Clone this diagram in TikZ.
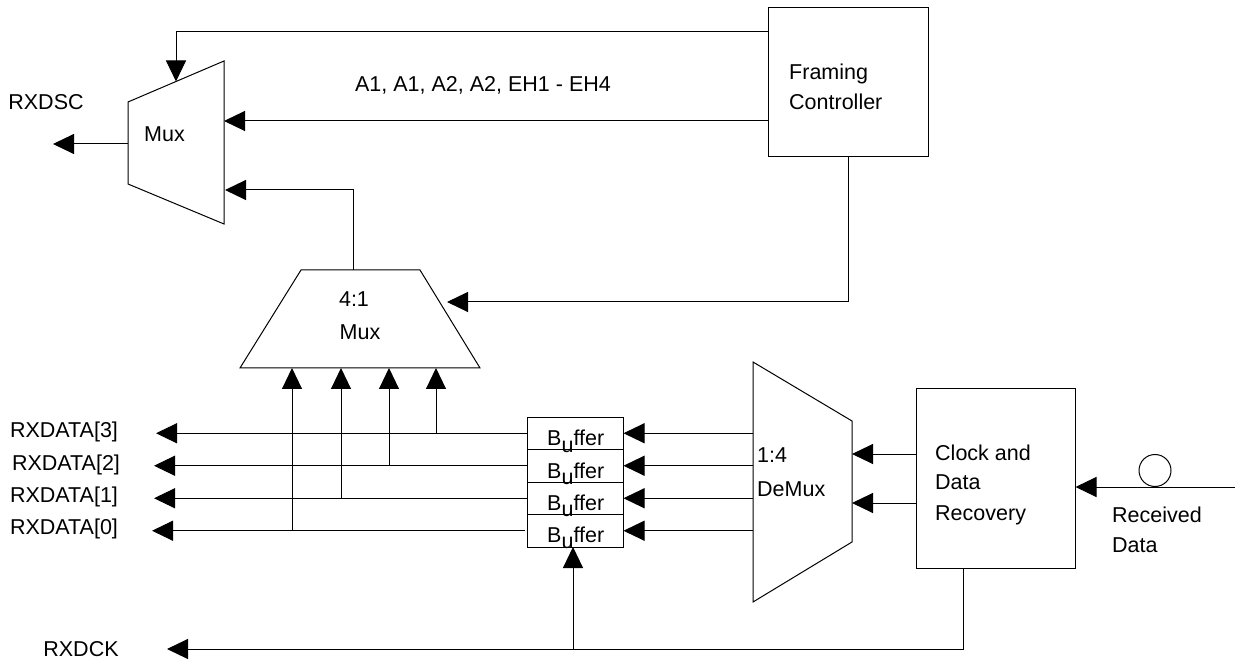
\documentclass[tikz,border=0pt]{standalone}
\usepackage{fontspec}
\setmainfont{Liberation Sans}
\usetikzlibrary{arrows.meta}
\tikzset{
  wire/.style={line width=1pt, draw=black},
  sig/.style={wire, -{Triangle[length=21pt,width=20pt]}},
  blockbox/.style={draw, line width=1pt, inner sep=0pt},
  txt/.style={font=\fontsize{21.5}{25}\selectfont, inner sep=0pt, anchor=base},
  txtl/.style={txt, anchor=base west},
}
\begin{document}
\begin{tikzpicture}[x=1pt,y=-1pt]
\useasboundingbox (0,0) rectangle (1235,660);

% ---- rectangular blocks ----
\node[blockbox, minimum width=160pt, minimum height=149pt] (fc)  at (848,82.5) {};
\node[blockbox, minimum width=159pt, minimum height=179pt] (cdr) at (995.5,478.5) {};
\node[blockbox, minimum width=96pt, minimum height=32.5pt] (b3) at (575,433.25) {};
\node[blockbox, minimum width=96pt, minimum height=32.5pt] (b2) at (575,465.75) {};
\node[blockbox, minimum width=96pt, minimum height=32.5pt] (b1) at (575,498.25) {};
\node[blockbox, minimum width=96pt, minimum height=32.5pt] (b0) at (575,530.75) {};

% ---- trapezoid blocks ----
% output multiplexer
\draw[wire] (128,102) -- (224,61) -- (224,224) -- (128,184) -- cycle;
\coordinate (muxOut) at (128,144);
\coordinate (muxTop) at (176,81.5);
\coordinate (muxInA) at (224,121);
\coordinate (muxInB) at (225,190);
% 4:1 multiplexer
\draw[wire] (301,270) -- (420,270) -- (480,368) -- (240,368) -- cycle;
\coordinate (m4Top) at (353,270);
\coordinate (m4Side) at (447,302);
\coordinate (m4i0) at (292,368);
\coordinate (m4i1) at (341,368);
\coordinate (m4i2) at (389,368);
\coordinate (m4i3) at (436,368);
% 1:4 demultiplexer
\draw[wire] (753,362) -- (852,421) -- (852,542) -- (753,602) -- cycle;
\coordinate (dmL) at (753,482);
\coordinate (dmR) at (852,482);

% ---- free ends ----
\coordinate (rxdscTip) at (53,144);
\coordinate (rx3) at (156,433.25);
\coordinate (rx2) at (154,465.75);
\coordinate (rx1) at (154,498.25);
\coordinate (rx0) at (152,530.75);
\coordinate (rxin) at (1235,487);
\coordinate (ckY) at (963,649);
\coordinate (rxdckTip) at (167,649);

% ---- connectors ----
\draw[sig] (fc.west |- 0,32) -| (muxTop);
\draw[sig] (fc.west |- muxInA) -- (muxInA);
\draw[sig] (m4Top) |- (muxInB);
\draw[sig] (fc.south) |- (m4Side);
\draw[sig] (muxOut) -- (rxdscTip);

\draw[sig] (b3.west) -- (rx3);
\draw[sig] (b2.west) -- (rx2);
\draw[sig] (b1.west) -- (rx1);
\draw[sig] ([xshift=-2pt]b0.west) -- (rx0);

\draw[sig] (m4i3 |- b3.west) -- (m4i3);
\draw[sig] (m4i2 |- b2.west) -- (m4i2);
\draw[sig] (m4i1 |- b1.west) -- (m4i1);
\draw[sig] (m4i0 |- b0.west) -- (m4i0);

\draw[sig] (dmL |- b3.east) -- (b3.east);
\draw[sig] (dmL |- b2.east) -- (b2.east);
\draw[sig] (dmL |- b1.east) -- (b1.east);
\draw[sig] (dmL |- b0.east) -- (b0.east);

\draw[sig] (cdr.west |- 0,454) -- (dmR |- 0,454);
\draw[sig] (cdr.west |- 0,503) -- (dmR |- 0,503);

\draw[sig] (rxin) -- (cdr.east |- rxin);
\node[draw, circle, line width=1pt, minimum size=32pt, inner sep=0pt] (disc) at (1155,470.5) {};

\draw[sig] (ckY |- cdr.south) -- (ckY) -- (rxdckTip);
\draw[sig] (573,649) -- (573,547);

% ---- labels ----
\node[txt] (tRxdsc) at (46,110) {RXDSC};
\node[txt] (tMux) at (164.5,142) {Mux};
\node[txt] (tBytes) at (483,92) {A1, A1, A2, A2, EH1 - EH4};
\node[txtl] (tFc1) at (789,80) {Framing};
\node[txtl] (tFc2) at (789,110) {Controller};
\node[txt] (tM41a) at (354,307) {4:1};
\node[txt] (tM41b) at (360,340) {Mux};
\node[txt] (tRx3) at (64,437) {RXDATA[3]};
\node[txt] (tRx2) at (66,470) {RXDATA[2]};
\node[txt] (tRx1) at (64,502) {RXDATA[1]};
\node[txt] (tRx0) at (64,534) {RXDATA[0]};
\node[txtl] (tBf3) at (547,446) {B\raisebox{-6pt}{u}ffer};
\node[txtl] (tBf2) at (547,478) {B\raisebox{-6pt}{u}ffer};
\node[txtl] (tBf1) at (547,510) {B\raisebox{-6pt}{u}ffer};
\node[txtl] (tBf0) at (547,542) {B\raisebox{-6pt}{u}ffer};
\node[txtl] (tDm1) at (757,462) {1:4};
\node[txtl] (tDm2) at (757,496) {DeMux};
\node[txtl] (tCdr1) at (935,460) {Clock and};
\node[txtl] (tCdr2) at (935,489) {Data};
\node[txtl] (tCdr3) at (935,520) {Recovery};
\node[txtl] (tRd1) at (1112,522) {Received};
\node[txtl] (tRd2) at (1112,552) {Data};
\node[txt] (tRxdck) at (81,656) {RXDCK};
\end{tikzpicture}
\end{document}
